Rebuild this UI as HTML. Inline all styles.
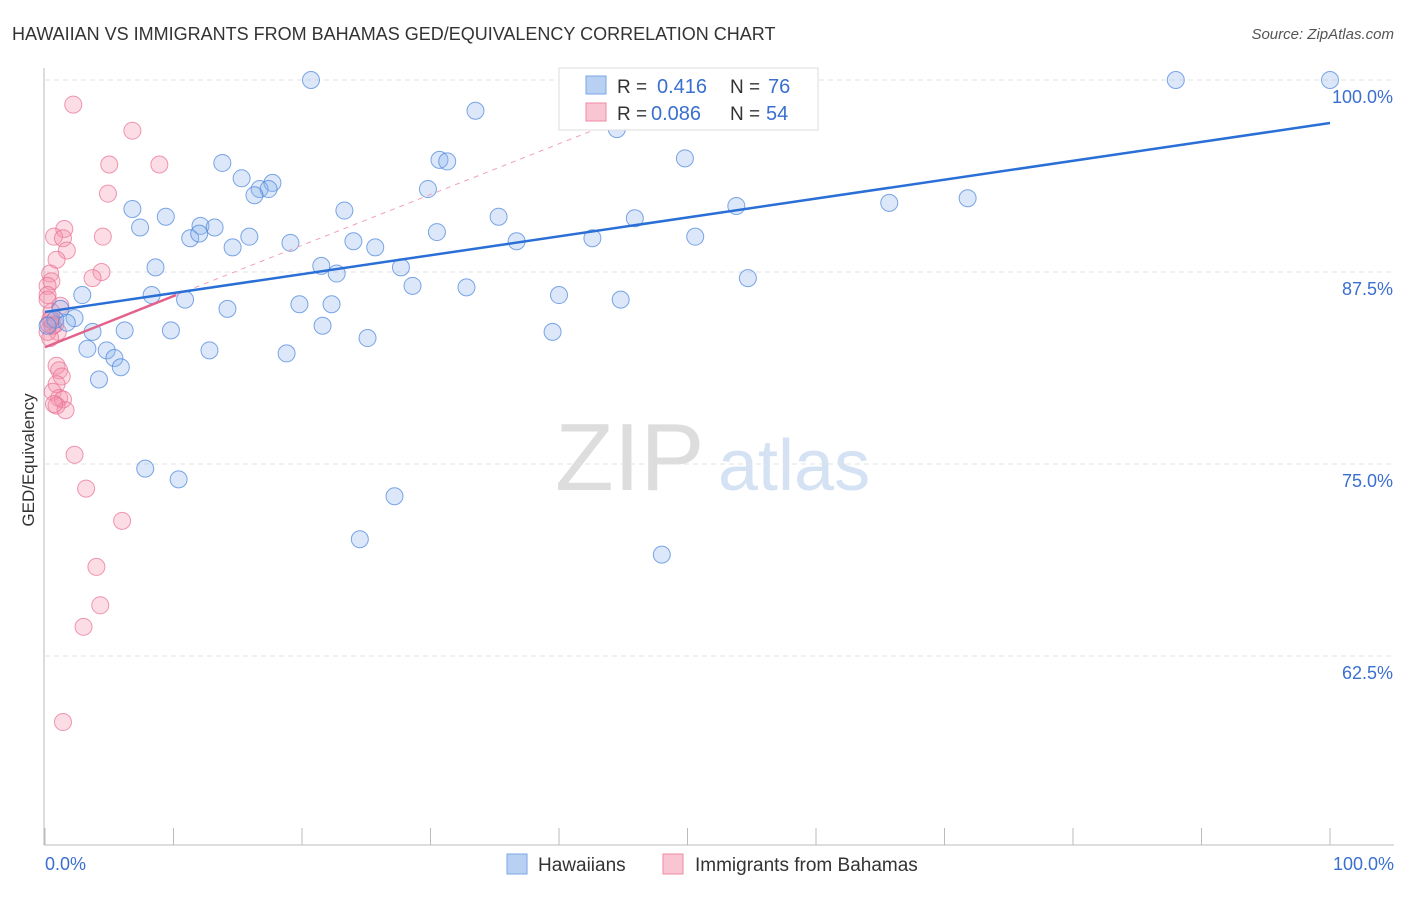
<!DOCTYPE html>
<html><head><meta charset="utf-8"><style>
body{margin:0;background:#fff;font-family:"Liberation Sans",sans-serif}
svg text{font-family:"Liberation Sans",sans-serif}
</style></head><body>
<svg id="chart" width="1406" height="892" xmlns="http://www.w3.org/2000/svg">
<text x="12" y="40" font-size="18" fill="#333">HAWAIIAN VS IMMIGRANTS FROM BAHAMAS GED/EQUIVALENCY CORRELATION CHART</text>
<text x="1394" y="39" font-size="15" fill="#555" text-anchor="end" font-style="italic">Source: ZipAtlas.com</text>
<text x="555" y="490" font-size="96" fill="#ddd" font-family="Liberation Serif">ZIP</text>
<text x="718" y="490" font-size="72" fill="#d4e2f4">atlas</text>
<text x="34" y="460" font-size="17" fill="#333" text-anchor="middle" transform="rotate(-90 34 460)">GED/Equivalency</text>
<g id="grid"></g><g id="marks"></g>
<g>
<rect x="559" y="68" width="259" height="62" fill="#fff" stroke="#ddd"/>
<rect x="586" y="76" width="20" height="18" fill="#b8d1f3" stroke="#7aa6e6"/>
<rect x="586" y="103" width="20" height="18" fill="#f9c5d3" stroke="#ee8aa6"/>
<text x="617" y="93" font-size="19" fill="#333">R = </text><text x="657" y="93" font-size="20" fill="#3a6fd0">0.416</text>
<text x="730" y="93" font-size="19" fill="#333">N = </text><text x="768" y="93" font-size="20" fill="#3a6fd0">76</text>
<text x="617" y="120" font-size="19" fill="#333">R = </text><text x="651" y="120" font-size="20" fill="#3a6fd0">0.086</text>
<text x="730" y="120" font-size="19" fill="#333">N = </text><text x="766" y="120" font-size="20" fill="#3a6fd0">54</text>
</g>
<g>
<rect x="507" y="854" width="20" height="20" fill="#b8d1f3" stroke="#7aa6e6"/>
<text x="538" y="871" font-size="19" fill="#333">Hawaiians</text>
<rect x="663" y="854" width="20" height="20" fill="#f9c5d3" stroke="#ee8aa6"/>
<text x="695" y="871" font-size="19" fill="#333">Immigrants from Bahamas</text>
</g>
</svg>
<script>
const yTicks=[100,87.5,75,62.5];
const yTickLabels=["100.0%","87.5%","75.0%","62.5%"];
const xTickLabels=["0.0%","100.0%"];
const blueX=[20.7,88,100,33.5,44.5,49.8,13.8,30.7,31.3,15.3,17.7,16.7,17.4,16.3,29.8,6.8,23.3,9.4,35.3,45.9,53.8,65.7,71.8,7.4,12.1,13.2,11.3,12,15.9,14.6,19.1,24,25.7,30.5,36.7,42.6,50.6,8.6,21.5,22.7,27.7,54.7,28.6,32.8,40,44.8,2.9,8.3,10.9,1.2,19.8,22.3,14.2,2.3,0.8,1.7,0.2,21.6,3.7,6.2,9.8,25.1,39.5,3.3,4.8,12.8,18.8,5.4,5.9,4.2,7.8,10.4,27.2,24.5,48];
const blueY=[100,100,100,98,96.8,94.9,94.6,94.8,94.7,93.6,93.3,92.9,92.9,92.5,92.9,91.6,91.5,91.1,91.1,91,91.8,92,92.3,90.4,90.5,90.4,89.7,90,89.8,89.1,89.4,89.5,89.1,90.1,89.5,89.7,89.8,87.8,87.9,87.4,87.8,87.1,86.6,86.5,86,85.7,86,86,85.7,85.1,85.4,85.4,85.1,84.5,84.4,84.2,84,84,83.6,83.7,83.7,83.2,83.6,82.5,82.4,82.4,82.2,81.9,81.3,80.5,74.7,74,72.9,70.1,69.1];
const pinkX=[2.2,6.8,5,8.9,4.9,1.5,0.7,1.4,4.5,1.7,0.9,4.4,3.7,0.4,0.5,0.2,0.2,1.2,0.5,0.2,0.5,0.8,0.2,1,0.4,0.9,1.1,1.3,0.9,0.6,1.1,1.4,0.9,1.6,0.7,2.3,3.2,6,4,4.3,3,1.4,0.3,0.4,0.6];
const pinkY=[98.4,96.7,94.5,94.5,92.6,90.3,89.8,89.7,89.8,88.9,88.3,87.5,87.1,87.4,86.9,86.6,86,85.3,84.9,85.7,84.4,84.1,83.6,83.6,83.2,81.4,81.1,80.7,80.2,79.7,79.3,79.2,78.8,78.5,78.9,75.6,73.4,71.3,68.3,65.8,64.4,58.2,84.1,84.4,84];
const blueTrendX=[0,100], blueTrendY=[84.9,97.2];
const pinkTrendX=[0,10.2], pinkTrendY=[82.6,86];
const pinkDashX=[10.2,45], pinkDashY=[86,97.5];
const X0=45,X1=1330,YT=80,PPU=15.36;
const sx=v=>X0+(X1-X0)*v/100, sy=v=>YT+(100-v)*PPU;
const NS="http://www.w3.org/2000/svg";
const grid=document.getElementById('grid'), marks=document.getElementById('marks');
function mk(tag,attrs,parent){const e=document.createElementNS(NS,tag);for(const k in attrs)e.setAttribute(k,attrs[k]);parent.appendChild(e);return e;}
yTicks.forEach((t,i)=>{
 const l=mk('line',{x1:45,x2:1394,y1:sy(t),y2:sy(t),stroke:'#e3e3e3','stroke-dasharray':'5,4'},grid);
 
 
 const tx=mk('text',{x:1393,y:sy(t)+23,'font-size':18,fill:'#3a6fd0','text-anchor':'end'},grid);
 tx.textContent=yTickLabels[i];
 
 
});
mk('line',{x1:44,x2:44,y1:68,y2:845,stroke:'#bbb'},grid);
mk('line',{x1:44,x2:1394,y1:845,y2:845,stroke:'#bbb'},grid);
for(let i=0;i<=10;i++){const x=sx(i*10);const t=mk('line',{x1:x,x2:x,y1:828,y2:845,stroke:'#bbb'},grid);
 
 }
[[0,'start',45],[1,'end',1394]].forEach(([i,a,x])=>{const t=mk('text',{x:x,y:870,'font-size':18,fill:'#3a6fd0','text-anchor':a},grid);t.textContent=xTickLabels[i];
 
 });
pinkX.forEach((v,i)=>{const c=mk('circle',{cx:sx(v),cy:sy(pinkY[i]),r:8.5,fill:'rgba(244,143,170,0.3)',stroke:'rgba(232,110,145,0.7)','stroke-width':1},marks);
 
 });
blueX.forEach((v,i)=>{const c=mk('circle',{cx:sx(v),cy:sy(blueY[i]),r:8.5,fill:'rgba(140,180,235,0.3)',stroke:'rgba(70,130,220,0.7)','stroke-width':1},marks);
 
 });
const pd=mk('line',{x1:sx(pinkDashX[0]),y1:sy(pinkDashY[0]),x2:sx(pinkDashX[1]),y2:sy(pinkDashY[1]),stroke:'#f0a0b8','stroke-dasharray':'5,5','stroke-width':1},marks);


const bl=mk('line',{x1:sx(blueTrendX[0]),y1:sy(blueTrendY[0]),x2:sx(blueTrendX[1]),y2:sy(blueTrendY[1]),stroke:'#2a6fd6','stroke-width':2.5},marks);


const pl=mk('line',{x1:sx(pinkTrendX[0]),y1:sy(pinkTrendY[0]),x2:sx(pinkTrendX[1]),y2:sy(pinkTrendY[1]),stroke:'#e3628a','stroke-width':2.5},marks);


</script>
</body></html>
